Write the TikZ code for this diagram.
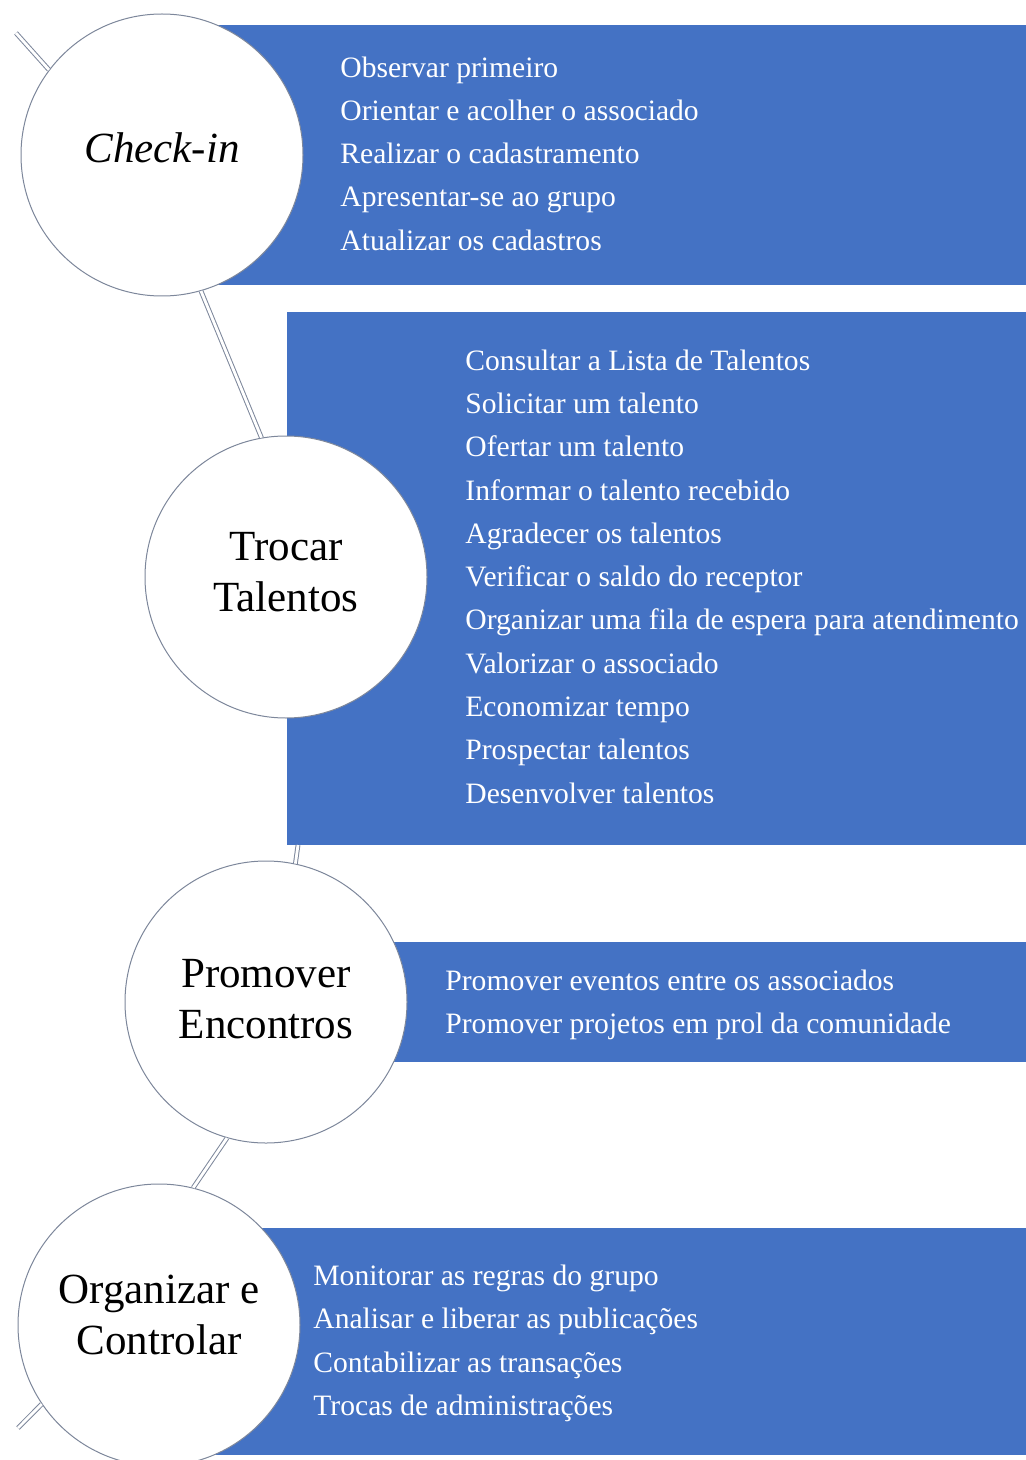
\documentclass[tikz,border=0pt]{standalone}
\usepackage{fontspec}
\setmainfont{Liberation Serif}
\definecolor{barblue}{RGB}{68,114,196}
\definecolor{rimgray}{RGB}{125,135,155}

\begin{document}
\begin{tikzpicture}[x=0.5pt,y=-0.5pt]
    \tikzstyle{stage}=[circle, draw=rimgray, line width=0.5pt, fill=white, minimum size=141pt, inner sep=0pt, align=center, font=\fontsize{21.5}{25.5}\selectfont]
    \tikzstyle{bar}=[fill=barblue]
    \tikzstyle{items}=[anchor=west, align=left, text=white, inner sep=0pt, font=\fontsize{14.8}{21.65}\selectfont]
    \tikzstyle{link}=[draw=rimgray, double=white, line width=0.5pt, double distance=1.4pt]

    \useasboundingbox (0,0) rectangle (1026,1460);

    % bars
    \fill[bar] (162,25) rectangle (1026,285);
    \fill[bar] (287,312) rectangle (1026,845);
    \fill[bar] (266,942) rectangle (1026,1062);
    \fill[bar] (159,1228) rectangle (1026,1455);

    % stages
    \node[stage, text depth=7pt] (checkin) at (162,155) {\itshape Check-in};
    \node[stage, text depth=5pt] (trocar) at (286,577) {Trocar\\Talentos};
    \node[stage, text depth=3pt] (promover) at (266,1002) {Promover\\Encontros};
    \node[stage, text depth=10pt] (organizar) at (159,1325) {Organizar e\\Controlar};

    % lists
    \node[items] (l1) at (340,153.5) {Observar primeiro\\Orientar e acolher o associado\\Realizar o cadastramento\\Apresentar-se ao grupo\\Atualizar os cadastros};
    \node[items] (l2) at (465,576.5) {Consultar a Lista de Talentos\\Solicitar um talento\\Ofertar um talento\\Informar o talento recebido\\Agradecer os talentos\\Verificar o saldo do receptor\\Organizar uma fila de espera para atendimento\\Valorizar o associado\\Economizar tempo\\Prospectar talentos\\Desenvolver talentos};
    \node[items] (l3) at (445,1005) {Promover eventos entre os associados\\Promover projetos em prol da comunidade};
    \node[items] (l4) at (313,1343.5) {Monitorar as regras do grupo\\Analisar e liberar as publica\c{c}\~oes\\Contabilizar as transa\c{c}\~oes\\Trocas de administra\c{c}\~oes};

    % links
    \coordinate (top) at (16,33);
    \coordinate (gap) at (298,845);
    \coordinate (bottom) at (18,1428);
    \draw[link] (top) -- (checkin.143);
    \draw[link] (checkin.-74) -- (trocar.100);
    \draw[link] (gap) -- (promover.78);
    \draw[link] (promover.-106) -- (organizar.76);
    \draw[link] (organizar.214) -- (bottom);
\end{tikzpicture}
\end{document}
